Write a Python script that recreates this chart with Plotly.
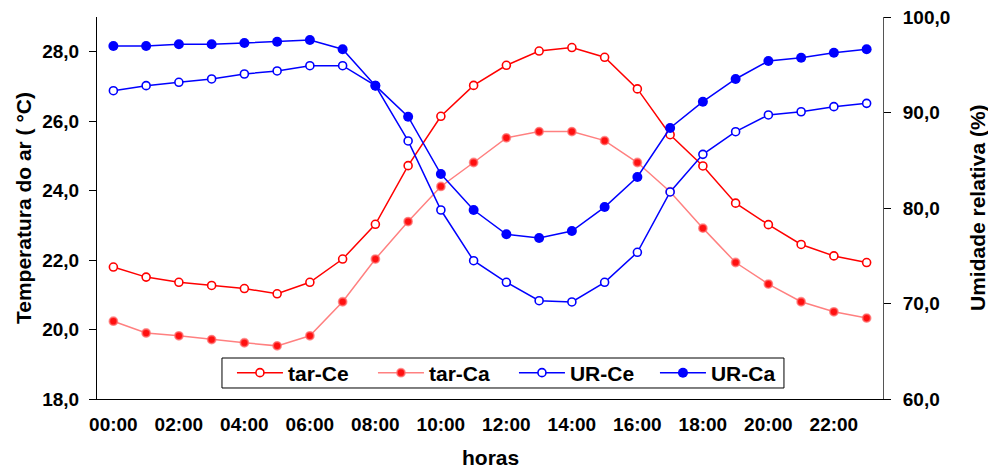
import plotly.graph_objects as go

hours = ["00:00", "01:00", "02:00", "03:00", "04:00", "05:00", "06:00", "07:00",
         "08:00", "09:00", "10:00", "11:00", "12:00", "13:00", "14:00", "15:00",
         "16:00", "17:00", "18:00", "19:00", "20:00", "21:00", "22:00", "23:00"]

tar_ce = [21.80, 21.51, 21.36, 21.27, 21.18, 21.03, 21.36, 22.03, 23.03, 24.72, 26.14, 27.03,
          27.61, 28.02, 28.12, 27.84, 26.93, 25.61, 24.71, 23.64, 23.02, 22.45, 22.12, 21.93]
tar_ca = [20.24, 19.90, 19.82, 19.71, 19.62, 19.53, 19.82, 20.80, 22.03, 23.11, 24.12, 24.81,
          25.52, 25.70, 25.70, 25.44, 24.81, 23.97, 22.92, 21.93, 21.31, 20.80, 20.51, 20.33]
ur_ce = [92.28, 92.81, 93.16, 93.51, 94.03, 94.35, 94.90, 94.90, 92.81, 87.02, 79.79, 74.48,
         72.22, 70.29, 70.16, 72.22, 75.36, 81.68, 85.62, 87.99, 89.74, 90.08, 90.61, 90.96]
ur_ca = [96.96, 96.96, 97.14, 97.14, 97.28, 97.41, 97.59, 96.62, 92.81, 89.56, 83.56, 79.79,
         77.25, 76.86, 77.59, 80.10, 83.25, 88.38, 91.13, 93.51, 95.39, 95.74, 96.26, 96.62]

x_ticklabels = hours[::2]
left_ticks = [18, 20, 22, 24, 26, 28]
right_ticks = [60, 70, 80, 90, 100]

FONT = "Liberation Sans"
RED = "#FF0000"
PINK = "#FF8080"
BLUE = "#0000FF"

fig = go.Figure()
fig.add_trace(go.Scatter(x=hours, y=tar_ce, name="tar-Ce", mode="lines+markers",
                         line=dict(color=RED, width=1.5),
                         marker=dict(symbol="circle", size=8, color="white",
                                     line=dict(color=RED, width=1.6))))
fig.add_trace(go.Scatter(x=hours, y=tar_ca, name="tar-Ca", mode="lines+markers",
                         line=dict(color=PINK, width=1.5),
                         marker=dict(symbol="circle", size=8, color="#FF1010",
                                     line=dict(color="rgba(255,110,110,0.7)", width=1.8))))
fig.add_trace(go.Scatter(x=hours, y=ur_ce, name="UR-Ce", mode="lines+markers", yaxis="y2",
                         line=dict(color=BLUE, width=1.5),
                         marker=dict(symbol="circle", size=8, color="white",
                                     line=dict(color=BLUE, width=1.6))))
fig.add_trace(go.Scatter(x=hours, y=ur_ca, name="UR-Ca", mode="lines+markers", yaxis="y2",
                         line=dict(color=BLUE, width=1.5),
                         marker=dict(symbol="circle", size=10, color=BLUE,
                                     line=dict(color=BLUE, width=0))))

tickfont = dict(family=FONT, size=19, color="black", weight="bold")
titlefont = dict(family=FONT, size=21, color="black", weight="bold")

fig.update_layout(
    width=988, height=472,
    margin=dict(l=97, r=105, t=17, b=73, autoexpand=False),
    paper_bgcolor="white", plot_bgcolor="white",
    separators=",.",
    font=dict(family=FONT, size=19, color="black", weight="bold"),
    showlegend=True,
    legend=dict(orientation="h", x=0.1717, y=0.068, xanchor="left", yanchor="middle",
                bgcolor="rgba(0,0,0,0)", borderwidth=0,
                font=dict(family=FONT, size=21, color="black", weight="bold"),
                itemwidth=46, entrywidth=80, entrywidthmode="pixels",
                traceorder="normal", tracegroupgap=0),
    shapes=[dict(type="rect", xref="paper", yref="paper", x0=0.1590, x1=0.8740,
                 y0=0.0288, y1=0.1073, fillcolor="white",
                 line=dict(color="black", width=1), layer="above")],
    xaxis=dict(type="category", categoryorder="array", categoryarray=hours,
               range=[-0.5, 23.5], tickmode="array", tickvals=x_ticklabels,
               ticktext=x_ticklabels, ticks="", showgrid=False, zeroline=False,
               showline=True, linecolor="black", linewidth=1, automargin=False,
               tickfont=tickfont, ticklabelstandoff=8),
    xaxis2=dict(overlaying="x", range=[-0.5, 23.5], tickmode="array",
                tickvals=[i - 0.5 for i in range(25)], ticks="outside", ticklen=7,
                tickcolor="black", showticklabels=False, showgrid=False,
                zeroline=False, showline=False, anchor="y", automargin=False),
    yaxis=dict(range=[18, 29], tickmode="array", tickvals=left_ticks, tickformat=".1f",
               ticks="outside", ticklen=7, tickcolor="black", showgrid=False,
               zeroline=False, showline=True, linecolor="black", linewidth=1,
               tickfont=tickfont, ticklabelstandoff=6, automargin=False),
    yaxis2=dict(range=[60, 100], tickmode="array", tickvals=right_ticks, tickformat=".1f",
                overlaying="y", side="right", ticks="outside", ticklen=7,
                tickcolor="black", showgrid=False, zeroline=False, showline=True,
                linecolor="#555555", linewidth=1, tickfont=tickfont,
                ticklabelstandoff=8, automargin=False),
    yaxis3=dict(range=[18, 29], tickmode="array", tickvals=left_ticks, overlaying="y",
                side="left", ticks="inside", ticklen=7, tickcolor="black",
                showticklabels=False, showgrid=False, zeroline=False, showline=False,
                automargin=False),
    yaxis4=dict(range=[60, 100], tickmode="array", tickvals=right_ticks, overlaying="y",
                side="right", ticks="inside", ticklen=7, tickcolor="black",
                showticklabels=False, showgrid=False, zeroline=False, showline=False,
                automargin=False),
    annotations=[
        dict(text="Temperatura do ar ( °C)", xref="paper", yref="paper",
             x=-0.0941, y=0.5, xanchor="center", yanchor="middle", textangle=-90,
             showarrow=False, font=titlefont),
        dict(text="Umidade relativa (%)", xref="paper", yref="paper",
             x=1.1196, y=0.5, xanchor="center", yanchor="middle", textangle=-90,
             showarrow=False, font=titlefont),
        dict(text="horas", xref="paper", yref="paper", x=0.5, y=-0.154,
             xanchor="center", yanchor="middle", showarrow=False, font=titlefont),
    ],
)

fig.write_html(
    "out.html",
    config={"displayModeBar": False},
    post_script="document.body.style.margin='0';document.body.style.overflow='hidden';",
)
